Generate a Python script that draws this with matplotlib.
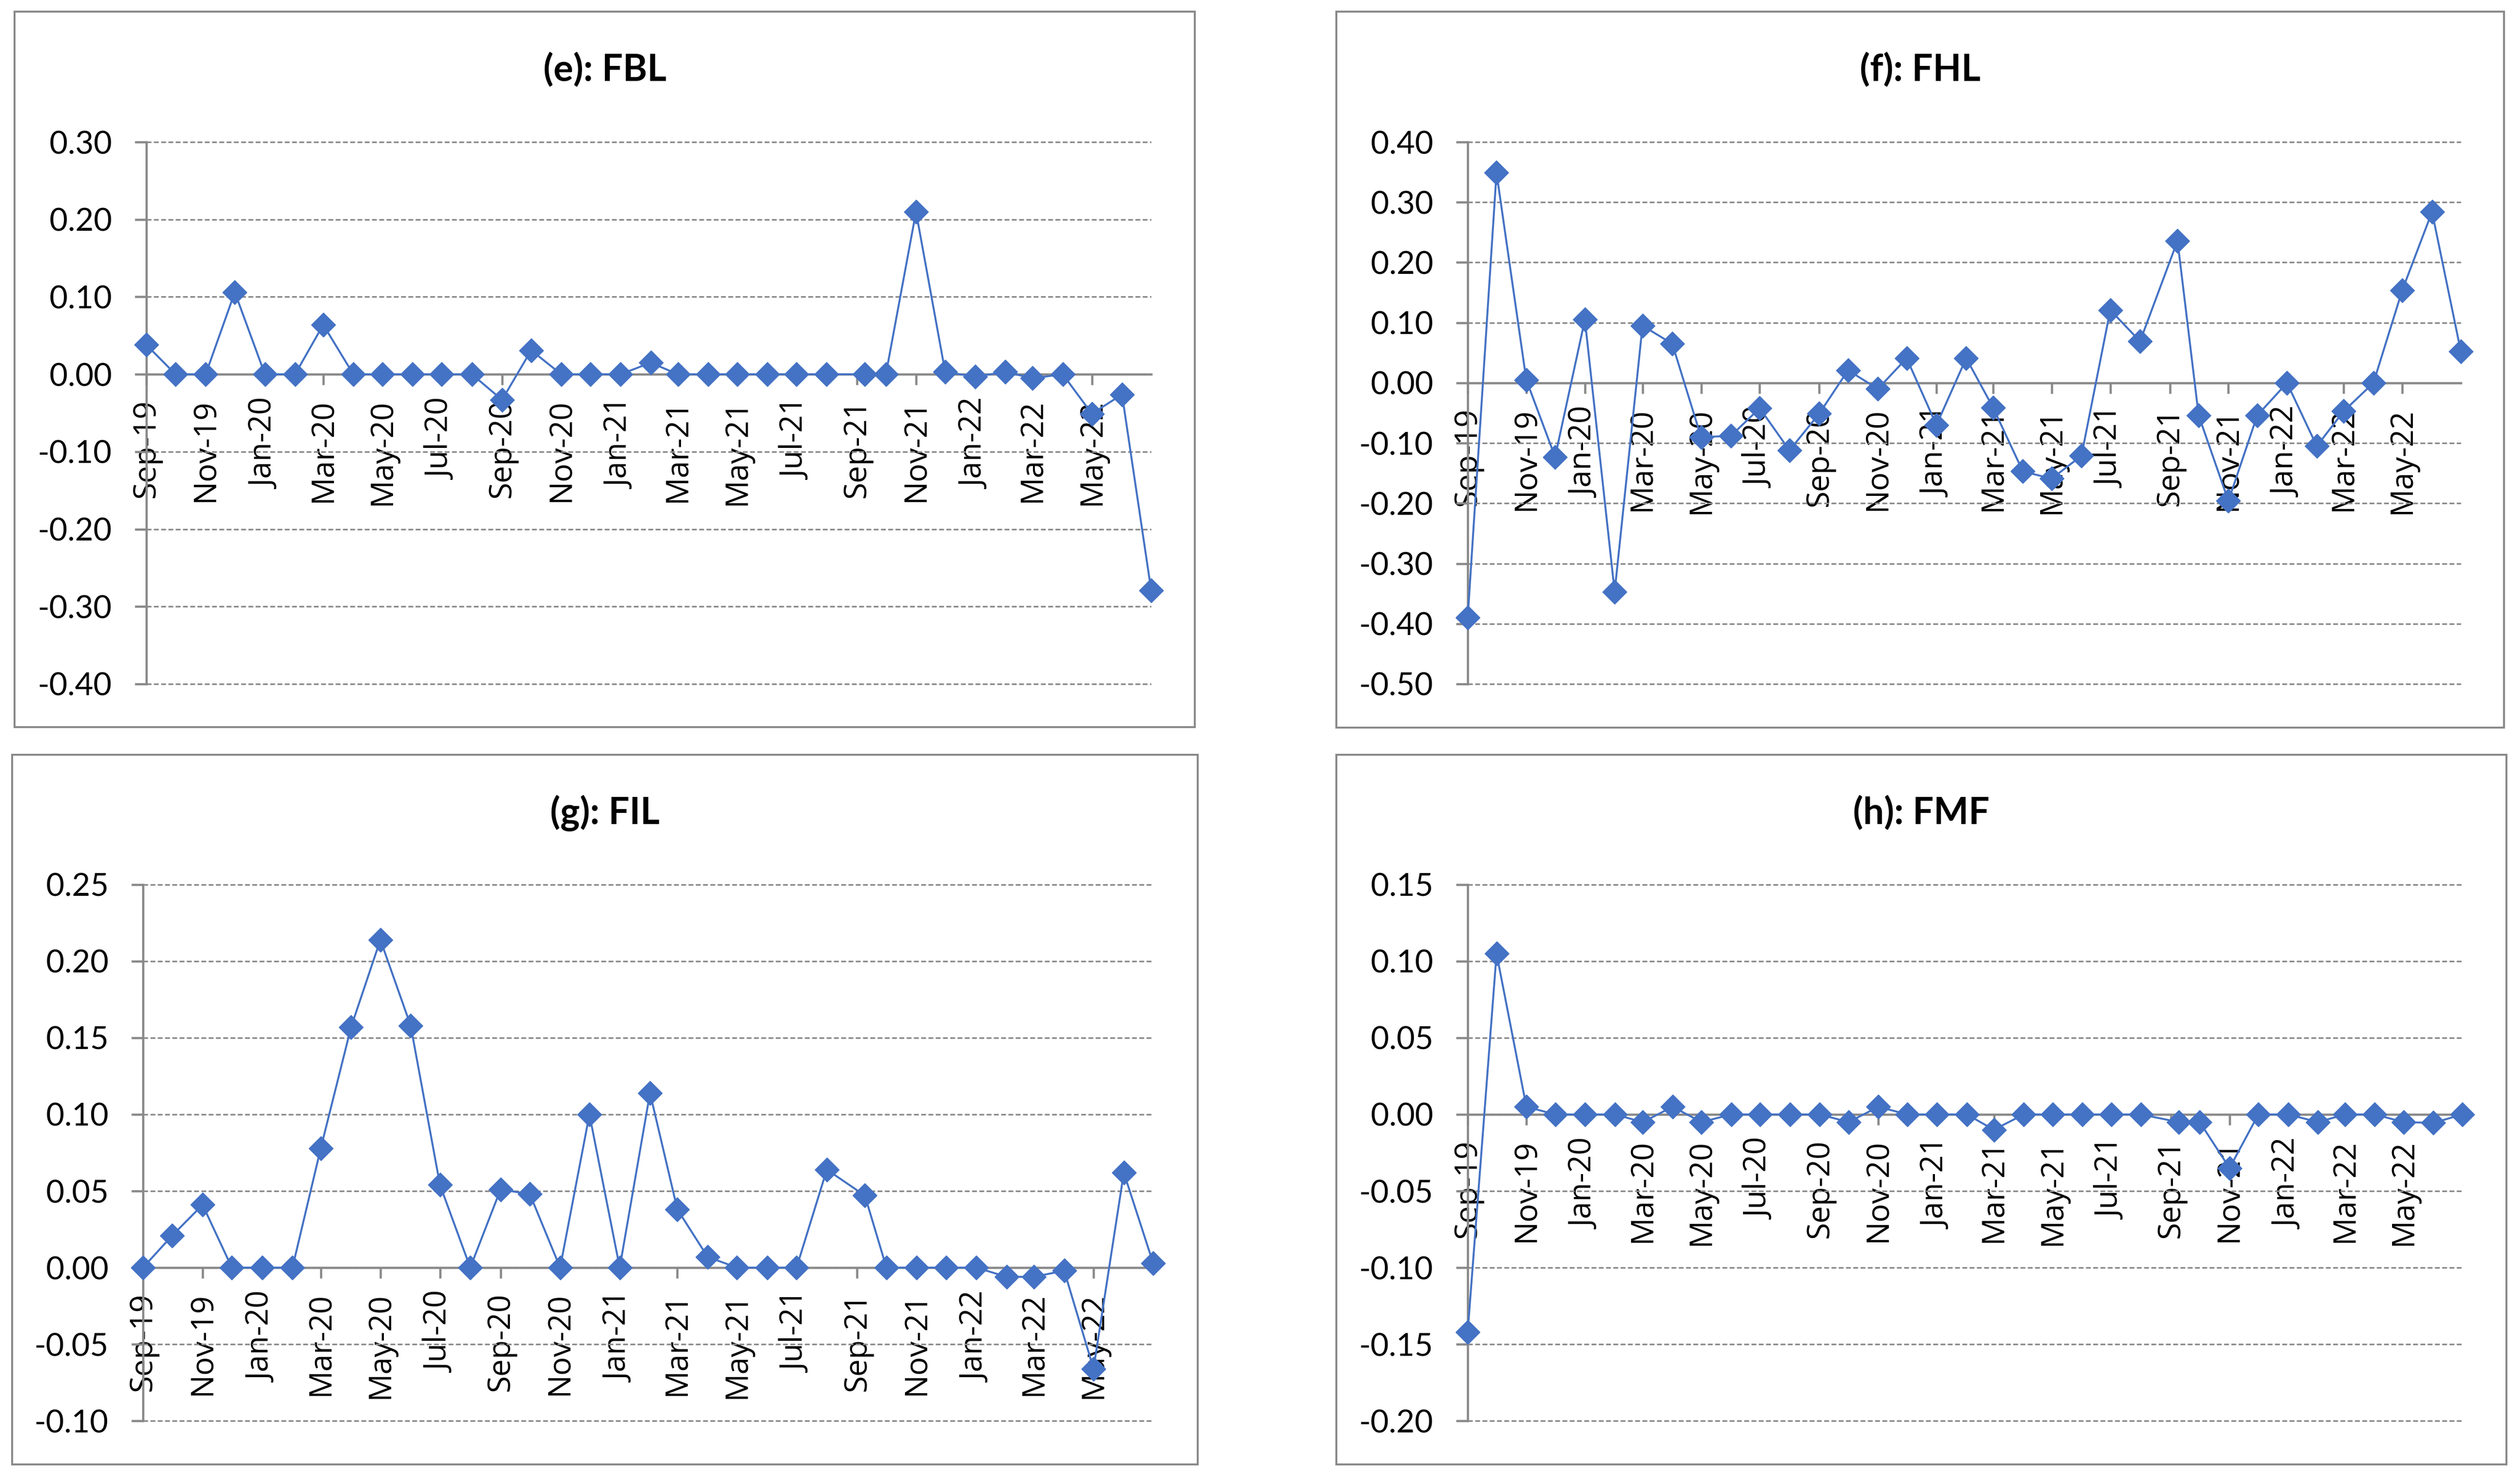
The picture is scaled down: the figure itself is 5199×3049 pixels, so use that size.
import matplotlib
matplotlib.use('Agg')
import matplotlib.pyplot as plt
import matplotlib.dates as mdates
from matplotlib.patches import Rectangle
from matplotlib.ticker import FixedLocator, FuncFormatter
import numpy as np
import pandas as pd

# ---------------- data ----------------
dates = ['2019-09-01', '2019-10-01', '2019-11-01', '2019-12-01',
         '2020-01-01', '2020-02-01', '2020-03-01', '2020-04-01', '2020-05-01', '2020-06-01',
         '2020-07-01', '2020-08-01', '2020-09-01', '2020-10-01', '2020-11-01', '2020-12-01',
         '2021-01-01', '2021-02-01', '2021-03-01', '2021-04-01', '2021-05-01', '2021-06-01',
         '2021-07-01', '2021-08-01', '2021-09-09', '2021-10-01', '2021-11-01', '2021-12-01',
         '2022-01-01', '2022-02-01', '2022-03-01', '2022-04-01', '2022-05-01', '2022-06-01',
         '2022-07-01']

tick_dates = ['2019-09-01', '2019-11-01', '2020-01-01', '2020-03-01', '2020-05-01',
              '2020-07-01', '2020-09-01', '2020-11-01', '2021-01-01', '2021-03-01',
              '2021-05-01', '2021-07-01', '2021-09-01', '2021-11-01', '2022-01-01',
              '2022-03-01', '2022-05-01']

fbl = [0.038, 0.0, 0.0, 0.106, 0.0, 0.0, 0.064, 0.0, 0.0, 0.0, 0.0, 0.0, -0.033, 0.031,
       0.0, 0.0, 0.0, 0.015, 0.0, 0.0, 0.0, 0.0, 0.0, 0.0, 0.0, 0.0, 0.210, 0.003, -0.003,
       0.003, -0.005, 0.0, -0.051, -0.026, -0.279]

fhl = [-0.390, 0.349, 0.005, -0.123, 0.105, -0.347, 0.095, 0.065, -0.090, -0.088, -0.042,
       -0.112, -0.051, 0.021, -0.010, 0.041, -0.070, 0.041, -0.041, -0.147, -0.159, -0.121,
       0.121, 0.069, 0.236, -0.054, -0.196, -0.054, 0.0, -0.105, -0.047, 0.0, 0.154, 0.284,
       0.052]

fil = [0.0, 0.021, 0.041, 0.0, 0.0, 0.0, 0.078, 0.157, 0.214, 0.158, 0.054, 0.0, 0.051,
       0.048, 0.0, 0.100, 0.0, 0.114, 0.038, 0.007, 0.0, 0.0, 0.0, 0.064, 0.047, 0.0, 0.0,
       0.0, 0.0, -0.006, -0.006, -0.002, -0.066, 0.062, 0.003]

fmf = [-0.142, 0.105, 0.005, 0.0, 0.0, 0.0, -0.005, 0.005, -0.005, 0.0, 0.0, 0.0, 0.0,
       -0.005, 0.005, 0.0, 0.0, 0.0, -0.010, 0.0, 0.0, 0.0, 0.0, 0.0, -0.005, -0.005,
       -0.035, 0.0, 0.0, -0.005, 0.0, 0.0, -0.005, -0.0055, 0.0]

titles = ['(e): FBL', '(f): FHL', '(g): FIL', '(h): FMF']
series = [fbl, fhl, fil, fmf]
y_limits = [(-0.40, 0.30), (-0.50, 0.40), (-0.10, 0.25), (-0.20, 0.15)]
y_steps = [0.10, 0.10, 0.05, 0.05]

# ---------------- style ----------------
plt.rcParams['font.family'] = ['Lato', 'DejaVu Sans']
plt.rcParams['axes.unicode_minus'] = False
plt.rcParams['lines.scale_dashes'] = False

W, H = 5199, 3049
GRAY = '#898989'
BLUE = '#4472C4'
XFONT = ['Open Sans', 'Lato', 'DejaVu Sans']

# layout in pixels: box (x0, y0, x1, y1), axes (x0, y0, x1, y1)
boxes = [(30, 24, 2465, 1500), (2757, 24, 5166, 1501),
         (25, 1557, 2471, 3021), (2757, 1557, 5171, 3021)]
axes_px = [(302, 293, 2375, 1411), (3028, 293, 5077, 1411),
           (295, 1825, 2379, 2931), (3028, 1825, 5080, 2931)]


def fx(px):
    return px / W


def fy(py):
    return 1 - py / H


def yfmt(v, _):
    v = round(v, 2)
    if abs(v) < 1e-9:
        v = 0.0
    return f'{v:.2f}'


fig = plt.figure(figsize=(W / 100, H / 100), dpi=100)
fig.patch.set_facecolor('white')

x = pd.to_datetime(dates)
xt = mdates.date2num(pd.to_datetime(tick_dates))

all_axes = []
for title, vals, ylim, step, box, apx in zip(titles, series, y_limits, y_steps, boxes, axes_px):
    bx0, by0, bx1, by1 = box
    fig.patches.append(Rectangle((fx(bx0), fy(by1)), fx(bx1) - fx(bx0), fy(by0) - fy(by1),
                                 transform=fig.transFigure, fill=False, edgecolor=GRAY,
                                 linewidth=2.9, zorder=0))
    fig.text(fx((bx0 + bx1) / 2), fy(by0 + 143), title, ha='center', va='baseline',
             fontsize=55, fontweight='bold', color='black')

    a0, a1, a2, a3 = apx
    ax = fig.add_axes([fx(a0), fy(a3), fx(a2) - fx(a0), fy(a1) - fy(a3)])
    ax.set_facecolor('none')
    ax.plot(x, vals, color=BLUE, linewidth=2.9, marker='D', markersize=25,
            markerfacecolor=BLUE, markeredgecolor=BLUE, markeredgewidth=1,
            zorder=3, clip_on=False)
    ax.set_xlim(x[0], x[-1])
    ax.set_ylim(*ylim)
    yt = np.round(np.arange(ylim[0], ylim[1] + step / 2, step), 2)
    ax.yaxis.set_major_locator(FixedLocator(yt))
    ax.yaxis.set_major_formatter(FuncFormatter(yfmt))
    ax.xaxis.set_major_locator(FixedLocator(xt))
    ax.xaxis.set_major_formatter(mdates.DateFormatter('%b-%y'))

    for s in ['top', 'right']:
        ax.spines[s].set_visible(False)
    ax.spines['bottom'].set_position(('data', 0))
    for s in ['bottom', 'left']:
        ax.spines[s].set_color(GRAY)
        ax.spines[s].set_linewidth(3.3)

    ax.tick_params(axis='x', direction='out', length=15.8, width=3.3, color=GRAY,
                   pad=21, labelsize=46, labelrotation=90, labelcolor='black')
    ax.tick_params(axis='y', direction='out', length=17.3, width=3.3, color=GRAY,
                   pad=34, labelsize=47, labelcolor='black')
    for lab in ax.get_xticklabels():
        lab.set_fontfamily(XFONT)
    ax.grid(axis='y', color=GRAY, linewidth=2.4, linestyle=(0, (7.2, 3.6)))
    ax.set_axisbelow(True)
    all_axes.append(ax)

fig.canvas.draw()
for ax in all_axes:
    for gl in ax.get_ygridlines():
        gl.set_clip_on(False)
    for lab in ax.get_xticklabels():
        lab.set_fontfamily(XFONT)

fig.savefig('out.png', dpi=100, facecolor='white')
